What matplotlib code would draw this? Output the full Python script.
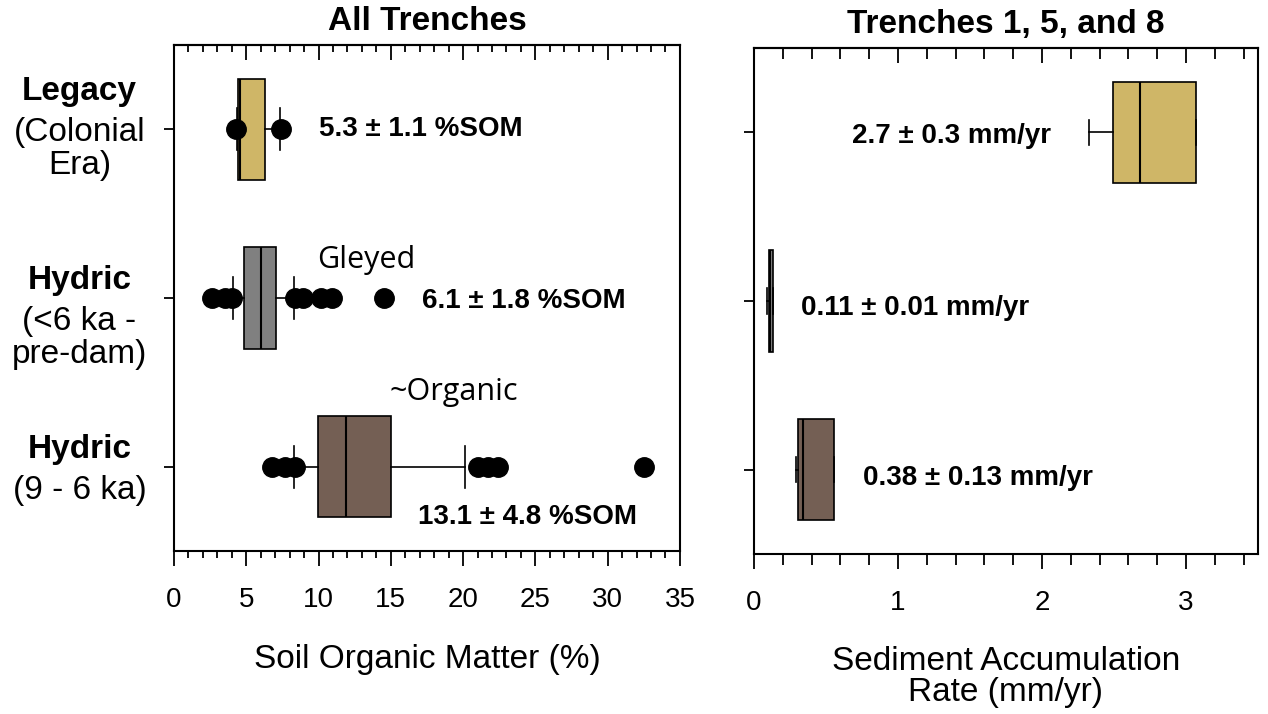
import numpy as np
import matplotlib.pyplot as plt
from matplotlib.ticker import MultipleLocator

plt.rcParams['font.family'] = ['Liberation Sans', 'DejaVu Sans']

# --- dados ---
posicoes = [1, 2, 3]
rotulos_y = [['Legacy', '(Colonial', 'Era)'],
             ['Hydric', '(<6 ka -', 'pre-dam)'],
             ['Hydric', '(9 - 6 ka)']]
cores = ['#CFB667', '#808080', '#745F54']

# Matéria orgânica do solo (%): quartis, mediana, bigodes e pontos extremos
som_q1 = [4.4, 4.85, 9.95]
som_med = [4.6, 6.0, 11.9]
som_q3 = [6.3, 7.05, 15.0]
som_whislo = [4.35, 4.1, 8.3]
som_whishi = [7.35, 8.3, 20.1]
som_outliers = [[4.3, 7.4],
                [2.6, 3.5, 4.0, 8.4, 8.9, 10.2, 10.9, 14.5],
                [6.8, 7.7, 8.4, 21.0, 21.7, 22.4, 32.5]]
som_texto = ['5.3 ± 1.1 %SOM', '6.1 ± 1.8 %SOM', '13.1 ± 4.8 %SOM']
notas_som = ['Gleyed', '~Organic']

# Taxa de acumulação de sedimento (mm/yr)
sar_q1 = [2.49, 0.105, 0.305]
sar_med = [2.68, 0.11, 0.34]
sar_q3 = [3.07, 0.13, 0.555]
sar_whislo = [2.33, 0.09, 0.295]
sar_whishi = [3.07, 0.13, 0.555]
sar_outliers = [[], [], []]
sar_texto = ['2.7 ± 0.3 mm/yr', '0.11 ± 0.01 mm/yr', '0.38 ± 0.13 mm/yr']


def desenha_caixas(ax, q1, med, q3, lo, hi, fl, largura_cap):
    stats = []
    for a, m, b, l, h, f in zip(q1, med, q3, lo, hi, fl):
        stats.append(dict(q1=a, med=m, q3=b, whislo=l, whishi=h, fliers=f))
    bp = ax.bxp(stats, positions=posicoes, orientation='horizontal',
                widths=0.6, capwidths=largura_cap, patch_artist=True,
                boxprops=dict(edgecolor='black', linewidth=1.2),
                medianprops=dict(color='black', linewidth=1.5),
                whiskerprops=dict(color='black', linewidth=1.2),
                capprops=dict(color='black', linewidth=1.2),
                flierprops=dict(marker='o', markerfacecolor='black',
                                markeredgecolor='black', markersize=14,
                                linestyle='none'))
    for caixa, cor in zip(bp['boxes'], cores):
        caixa.set_facecolor(cor)
    return bp


def ajusta_eixo(ax, xmax, maior, menor, tam_maior, tam_menor):
    ax.set_xlim(0, xmax)
    ax.set_ylim(3.5, 0.5)
    ax.xaxis.set_major_locator(MultipleLocator(maior))
    ax.xaxis.set_minor_locator(MultipleLocator(menor))
    ax.set_yticks(posicoes)
    ax.set_yticklabels([])
    ax.tick_params(axis='x', which='major', direction='out', length=tam_maior,
                   width=1.3, labelsize=20, pad=15)
    ax.tick_params(axis='x', which='minor', direction='out', length=tam_menor,
                   width=1.3)
    ax.tick_params(axis='y', direction='out', length=7, width=1.3)
    for s in ax.spines.values():
        s.set_linewidth(1.5)
    # ticks para dentro no topo
    topo = ax.secondary_xaxis('top')
    topo.xaxis.set_major_locator(MultipleLocator(maior))
    topo.xaxis.set_minor_locator(MultipleLocator(menor))
    topo.tick_params(axis='x', which='major', direction='in',
                     length=tam_maior, width=1.3, labeltop=False)
    topo.tick_params(axis='x', which='minor', direction='in',
                     length=tam_menor, width=1.3)
    topo.spines['top'].set_linewidth(1.5)


fig = plt.figure(figsize=(12.68, 7.14), dpi=100)
ax1 = fig.add_axes([0.1372, 0.2283, 0.399, 0.7087])
ax2 = fig.add_axes([0.5946, 0.2241, 0.3975, 0.7087])

desenha_caixas(ax1, som_q1, som_med, som_q3, som_whislo, som_whishi,
               som_outliers, 0.25)
desenha_caixas(ax2, sar_q1, sar_med, sar_q3, sar_whislo, sar_whishi,
               sar_outliers, 0.15)

ajusta_eixo(ax1, 35, 5, 1, 11, 5)
ajusta_eixo(ax2, 3.5, 1, 0.2, 11, 8)

ax1.set_title('All Trenches', fontsize=24, fontweight='bold', pad=11)
ax2.set_title('Trenches 1, 5, and 8', fontsize=24, fontweight='bold', pad=11)

ax1.set_xlabel('Soil Organic Matter (%)', fontsize=24)
ax1.xaxis.set_label_coords(0.5, -0.215)
ax1.xaxis.label.set_va('center')
ax2.set_xlabel('Sediment Accumulation\nRate (mm/yr)', fontsize=24,
               linespacing=1.0)
ax2.xaxis.set_label_coords(0.5, -0.243)
ax2.xaxis.label.set_va('center')

# rótulos das categorias (primeira linha em negrito)
desloc_inicial = [-29, -9, -9]
for pos, linhas, d0 in zip(posicoes, rotulos_y, desloc_inicial):
    desloc = d0
    for i, linha in enumerate(linhas):
        ax1.annotate(linha, xy=(0, pos), xycoords=ax1.get_yaxis_transform(),
                     xytext=(-68, -desloc * 0.72), textcoords='offset points',
                     ha='center', va='baseline', fontsize=24,
                     fontweight='bold' if i == 0 else 'normal')
        desloc += 41 if i == 0 else 33

# textos de média ± desvio
pos_som = [(10.0, 1.0), (17.15, 2.02), (16.9, 3.30)]
for (x, y), t in zip(pos_som, som_texto):
    ax1.text(x, y, t, fontsize=20, fontweight='bold', ha='left', va='center')

pos_sar = [(0.68, 1.02), (0.33, 2.04), (0.755, 3.05)]
for (x, y), t in zip(pos_sar, sar_texto):
    ax2.text(x, y, t, fontsize=20, fontweight='bold', ha='left', va='center')

pos_notas = [(9.9, 1.775), (14.9, 2.56)]
for (x, y), t in zip(pos_notas, notas_som):
    ax1.text(x, y, t, fontsize=22, family=['Open Sans', 'DejaVu Sans'],
             ha='left', va='center')

fig.savefig('out.png', dpi=100)
